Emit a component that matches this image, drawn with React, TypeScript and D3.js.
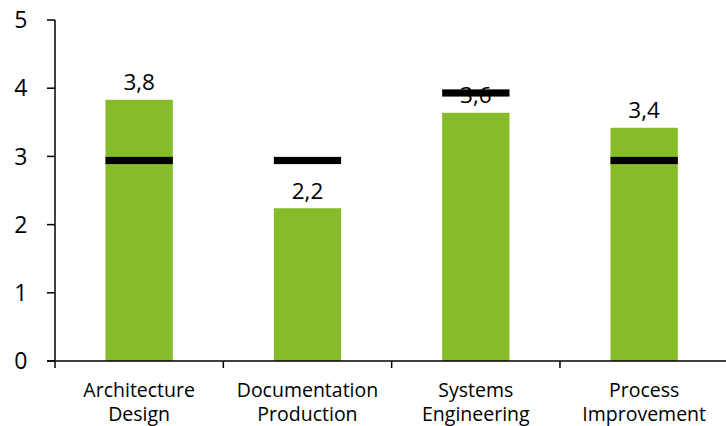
import React from "react";
import * as d3 from "d3";

const categories = ["Architecture Design", "Documentation Production", "Systems Engineering", "Process Improvement"];
const categoryLines = [["Architecture", "Design"], ["Documentation", "Production"], ["Systems", "Engineering"], ["Process", "Improvement"]];
const actualValues = [3.83, 2.24, 3.64, 3.42];
const targetValues = [2.94, 2.94, 3.93, 2.94];
const valueLabels = ["3,8", "2,2", "3,6", "3,4"];
const yTicks = [0, 1, 2, 3, 4, 5];

const W = 726;
const H = 426;
const M = { left: 55, right: -2.3, top: 20, bottom: 65 };

export default function App() {
  const x = d3.scaleBand<string>().domain(categories).range([M.left, W - M.right]).paddingInner(0).paddingOuter(0);
  const y = d3.scaleLinear().domain([0, 5]).range([H - M.bottom, M.top]);
  const bw = x.bandwidth();
  const barW = bw * 0.4;
  const font = "'Open Sans', 'Noto Sans', sans-serif";
  const y0 = y(0);

  return (
    <svg width={W} height={H} style={{ position: "absolute", left: 0, top: 0, background: "#fff" }} fontFamily={font}>
      {categories.map((c, i) => {
        const cx = (x(c) as number) + bw / 2;
        return (
          <rect key={c} x={cx - barW / 2} y={y(actualValues[i])} width={barW} height={y0 - y(actualValues[i])} fill="#86BC29" />
        );
      })}
      {categories.map((c, i) => {
        const cx = (x(c) as number) + bw / 2;
        return (
          <text key={c + "l"} x={cx} y={y(actualValues[i]) - 9.5} textAnchor="middle" fontSize={22.5} fill="#000">
            {valueLabels[i]}
          </text>
        );
      })}
      {categories.map((c, i) => {
        const cx = (x(c) as number) + bw / 2;
        return (
          <rect key={c + "t"} x={cx - barW / 2} y={y(targetValues[i]) - 3.6} width={barW} height={7.2} fill="#000" />
        );
      })}
      {/* y axis */}
      <line x1={M.left} x2={M.left} y1={y(5)} y2={y0} stroke="#000" strokeWidth={1.5} />
      {yTicks.map((t) => (
        <g key={t}>
          <line x1={M.left - 8} x2={M.left} y1={y(t)} y2={y(t)} stroke="#000" strokeWidth={1.5} />
          <text x={27.5} y={y(t)} dy="0.36em" textAnchor="end" fontSize={23} fill="#000">
            {t}
          </text>
        </g>
      ))}
      {/* x axis */}
      <line x1={M.left - 8} x2={W} y1={y0} y2={y0} stroke="#000" strokeWidth={1.5} />
      {categories.map((c) => (
        <line key={c + "tk"} x1={x(c) as number} x2={x(c) as number} y1={y0} y2={y0 + 7} stroke="#000" strokeWidth={1.5} />
      ))}
      {categories.map((c, i) => {
        const cx = (x(c) as number) + bw / 2;
        return (
          <text key={c + "x"} x={cx} textAnchor="middle" fontSize={19.5} fill="#000">
            {categoryLines[i].map((ln, j) => (
              <tspan key={j} x={cx} y={397 + j * 24}>
                {ln}
              </tspan>
            ))}
          </text>
        );
      })}
    </svg>
  );
}
